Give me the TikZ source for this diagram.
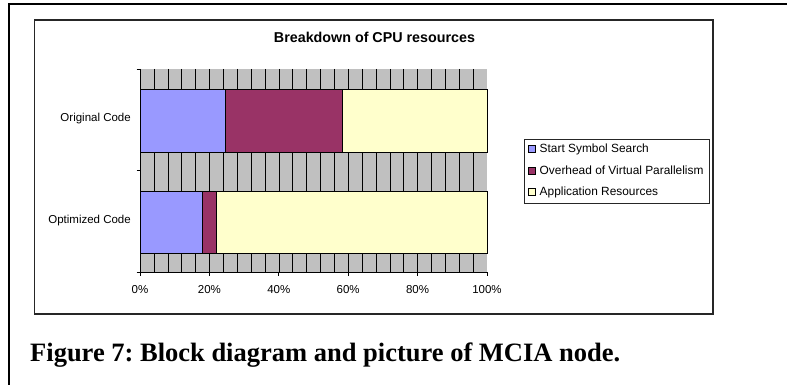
\documentclass[tikz,border=0pt]{standalone}
\usepackage{fontspec}
\setmainfont{Liberation Serif}
\setsansfont{Liberation Sans}
\frenchspacing
\begin{document}
\begin{tikzpicture}[x=1pt,y=-1pt,
  lbl/.style={font=\sffamily\fontsize{11.5}{13}\selectfont, inner sep=0pt},
  keytext/.style={font=\sffamily\fontsize{11.9}{13}\selectfont, inner sep=0pt, anchor=west},
  seg/.style={draw=black, line width=0.8pt},
  key/.style={draw=black, line width=0.6pt, minimum size=7pt, inner sep=0pt},
  grid/.style={draw=black, line width=0.5pt}]
\definecolor{plotgray}{HTML}{C0C0C0}
\definecolor{sssblue}{HTML}{9999FF}
\definecolor{ovmaroon}{HTML}{993366}
\definecolor{appyellow}{HTML}{FFFFCC}
\useasboundingbox (0,0) rectangle (787,385);
\fill[white] (0,0) rectangle (787,385);
% outer frame (open to the right and below)
\draw[line width=2pt] (9,390) -- (9,4.5) -- (790,4.5);
% chart area
\draw[line width=1.4pt, draw=black!85] (34.5,20) rectangle (713,314);
\node[font=\sffamily\bfseries\fontsize{14.3}{16}\selectfont, inner sep=0pt] (title) at (374.5,37) {Breakdown of CPU resources};
% plot background and vertical grid every 4%
\fill[plotgray] (140,69) rectangle (487,272);
\foreach \i in {1,...,24} \draw[grid] ({140+\i*13.88},69) -- ({140+\i*13.88},272);
% bars
\def\pw{347}
\draw[seg, fill=sssblue]   (140,89) rectangle ({140+0.247*\pw},152);
\draw[seg, fill=ovmaroon]  ({140+0.247*\pw},89) rectangle ({140+0.583*\pw},152);
\draw[seg, fill=appyellow] ({140+0.583*\pw},89) rectangle (487,152);
\draw[seg, fill=sssblue]   (140,191) rectangle ({140+0.18*\pw},253);
\draw[seg, fill=ovmaroon]  ({140+0.18*\pw},191) rectangle ({140+0.221*\pw},253);
\draw[seg, fill=appyellow] ({140+0.221*\pw},191) rectangle (487,253);
% axes
\draw[line width=0.8pt] (140,69) -- (140,272) -- (487,272);
\foreach \y in {69,170,272} \draw[line width=0.8pt] (136.5,\y) -- (140,\y);
\foreach \k in {0,...,5} \draw[line width=0.8pt] ({140+\k*69.4},272) -- ({140+\k*69.4},275.5);
% labels
\node[lbl, anchor=east] (orig) at (131,119) {Original Code};
\node[lbl, anchor=east] (opt) at (131,221) {Optimized Code};
\foreach \k/\t in {0/0\%,1/20\%,2/40\%,3/60\%,4/80\%,5/100\%}
  \node[lbl] (x\k) at ({140+\k*69.4},290) {\t};
% legend
\draw[line width=0.8pt, draw=black!85] (524,139) rectangle (709,203);
\node[key, fill=sssblue]   (k1) at (531.5,149) {};
\node[key, fill=ovmaroon]  (k2) at (531.5,170.5) {};
\node[key, fill=appyellow] (k3) at (531.5,192) {};
\node[keytext] (l1) at (539.5,149) {Start Symbol Search};
\node[keytext] (l2) at (539.5,170.5) {Overhead of Virtual Parallelism};
\node[keytext] (l3) at (539.5,192) {Application Resources};
% caption
\node[font=\bfseries\fontsize{26.5}{30}\selectfont, anchor=base west, inner sep=0pt] (cap) at (30,361) {Figure 7: Block diagram and picture of MCIA node.};
\end{tikzpicture}
\end{document}
